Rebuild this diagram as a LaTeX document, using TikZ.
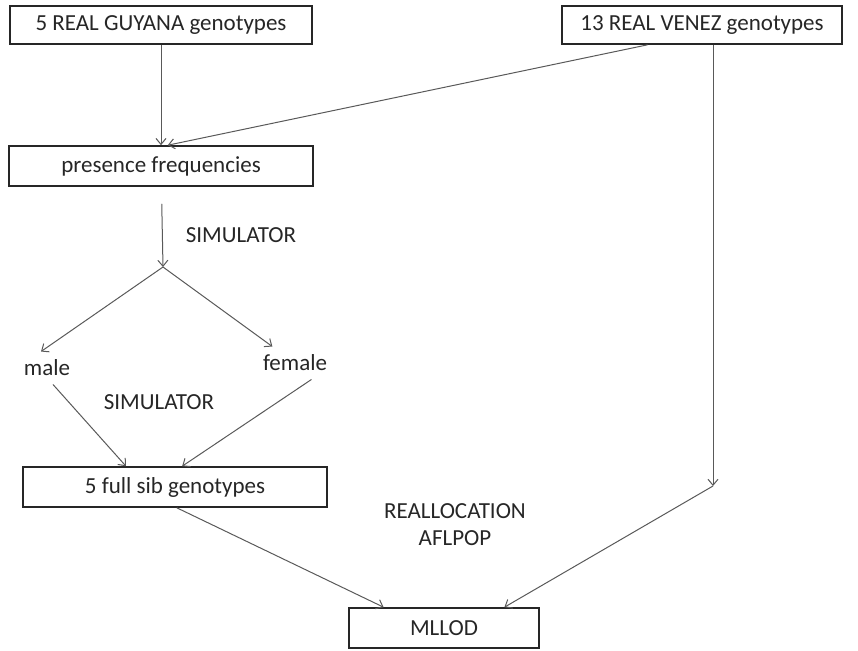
\documentclass[tikz,border=0pt]{standalone}
\usepackage{fontspec}
\setmainfont{Carlito}
\usetikzlibrary{arrows.meta}
\begin{document}
\begin{tikzpicture}[x=.5pt, y=-.5pt, >={Straight Barb[length=3pt,width=5pt]},
  box/.style={draw=black!85, line width=.8pt, inner sep=0pt, font=\fontsize{11.5}{13.5}\selectfont, text=black!85},
  lbl/.style={inner sep=4pt, font=\fontsize{11.5}{13.5}\selectfont, text=black!85},
  flow/.style={->, draw=black!65, line width=.5pt}]
\useasboundingbox (0,0) rectangle (858,650);
\node[box, minimum width=151pt, minimum height=19pt](guyana) at (161,25){5 REAL GUYANA genotypes};
\node[box, minimum width=140pt, minimum height=19pt](venez) at (702,25){13 REAL VENEZ genotypes};
\node[box, minimum width=152pt, minimum height=20pt](presence) at (161,166){presence frequencies};
\node[lbl](sim1) at (241,235){SIMULATOR};
\coordinate (split) at (163,267);
\node[lbl](male) at (47,368){male};
\node[lbl](female) at (295,363){female};
\node[lbl](sim2) at (159,402){SIMULATOR};
\node[box, minimum width=152pt, minimum height=20pt](fullsib) at (175,487){5 full sib genotypes};
\node[lbl, align=center](realloc) at (455,525){REALLOCATION\\AFLPOP};
\node[box, minimum width=95pt, minimum height=20pt](mllod) at (444,628){MLLOD};
\coordinate (bend) at (713,486);

\draw[flow](guyana)--(presence);
\draw[flow](venez.200)--(presence.72);
\draw[flow, shorten <=8.5pt](presence)--(split);
\draw[flow](split)--(male.110);
\draw[flow](split)--(female.144);
\draw[flow](male.-70)--(fullsib.157);
\draw[flow](female.-45)--(fullsib.71);
\draw[flow](bend |- venez.south)--(bend);
\draw[flow](fullsib.-85)--(mllod.161);
\draw[flow](bend)--(mllod.19);
\end{tikzpicture}
\end{document}
